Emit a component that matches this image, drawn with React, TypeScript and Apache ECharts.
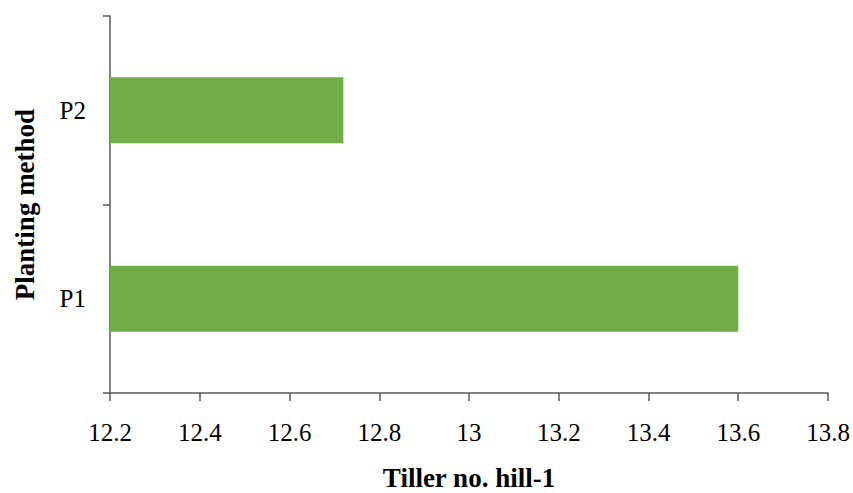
import React, { useEffect, useRef } from "react";
import * as echarts from "echarts";

const categories = ["P1", "P2"];
const tillerValues = [13.6, 12.72];
const xMin = 12.2;
const xMax = 13.8;
const xInterval = 0.2;
const xTitle = "Tiller no. hill-1";
const yTitle = "Planting method";

export default function App() {
  const ref = useRef<HTMLDivElement>(null);
  useEffect(() => {
    if (!ref.current) return;
    const chart = echarts.init(ref.current, null, { renderer: "svg" });
    const font = "Liberation Serif";
    const axisColor = "#595959";
    chart.setOption({
      animation: false,
      backgroundColor: "#ffffff",
      grid: { left: 110, right: 25, top: 16, bottom: 100, containLabel: false, outerBoundsMode: "none" },
      xAxis: {
        type: "value",
        min: xMin,
        max: xMax,
        interval: xInterval,
        name: xTitle,
        nameLocation: "middle",
        nameGap: 74,
        nameTextStyle: { fontFamily: font, fontSize: 27, lineHeight: 22, fontWeight: "bold", color: "#000" },
        axisLine: { show: true, lineStyle: { color: axisColor, width: 1.5 } },
        axisTick: { show: true, length: 8, lineStyle: { color: axisColor, width: 1.5 } },
        splitLine: { show: false },
        axisLabel: {
          fontFamily: font,
          fontSize: 25,
          color: "#000",
          margin: 27,
          hideOverlap: false,
          formatter: (v: number) => String(parseFloat(v.toFixed(1))),
        },
      },
      yAxis: {
        type: "category",
        data: categories,
        name: yTitle,
        nameLocation: "middle",
        nameGap: 72,
        nameRotate: 90,
        nameTextStyle: { fontFamily: font, fontSize: 27, fontWeight: "bold", color: "#000" },
        axisLine: { show: true, lineStyle: { color: axisColor, width: 1.5 } },
        axisTick: { show: true, length: 7, alignWithLabel: false, lineStyle: { color: axisColor, width: 1.5 } },
        axisLabel: { fontFamily: font, fontSize: 25, color: "#000", margin: 24 },
        splitLine: { show: false },
      },
      series: [
        {
          type: "bar",
          data: tillerValues,
          barWidth: 66,
          itemStyle: { color: "#70AD47" },
        },
      ],
    });
    return () => chart.dispose();
  }, []);
  return (
    <div
      ref={ref}
      style={{ position: "fixed", left: 0, top: 0, width: 853, height: 493, background: "#fff" }}
    />
  );
}
